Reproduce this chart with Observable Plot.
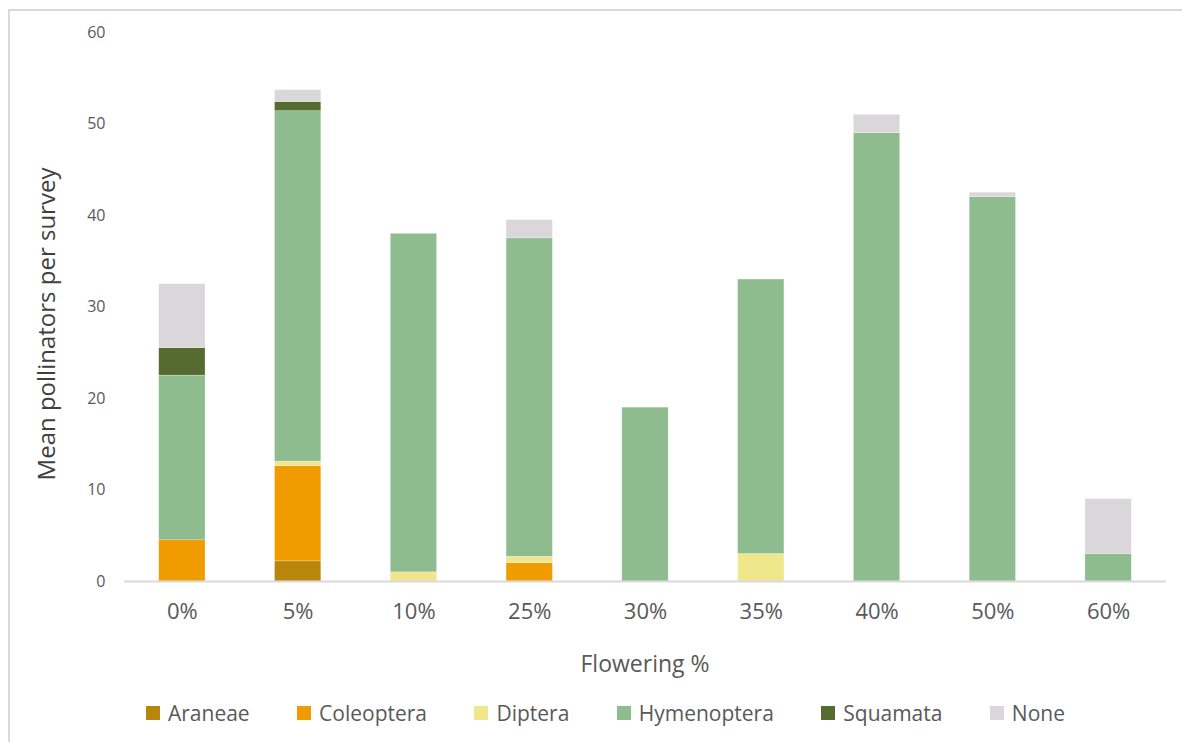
<!DOCTYPE html>
<html>
<head>
<meta charset="utf-8">
<script src="https://cdn.jsdelivr.net/npm/d3@7"></script>
<script src="https://cdn.jsdelivr.net/npm/@observablehq/plot@0.6"></script>
<style>
  html, body { margin: 0; padding: 0; background: #fff; }
  body { width: 1182px; height: 742px; position: relative; overflow: hidden; font-family: "Open Sans", sans-serif; }
  #frame { position: absolute; left: 8px; top: 9px; width: 1200px; height: 800px; border-top: 2px solid #d9d9d9; border-left: 2px solid #d9d9d9; box-sizing: border-box; }
  #chart { position: absolute; left: 0; top: 0; }
  #ytitle { position: absolute; left: 45px; top: 324px; transform: translate(-50%, -50%) rotate(-90deg); font-size: 24px; color: #404040; white-space: nowrap; }
  #xtitle { position: absolute; left: 645px; top: 663px; transform: translate(-50%, -50%); font-size: 23px; color: #595959; white-space: nowrap; }
  #legend { position: absolute; left: 146px; width: 919px; top: 713px; transform: translateY(-50%); display: flex; justify-content: space-between; align-items: center; font-size: 21px; color: #595959; }
  .item { display: flex; align-items: center; white-space: nowrap; }
  .sw { width: 14px; height: 14px; margin-right: 8px; }
</style>
</head>
<body>
<div id="frame"></div>
<div id="chart"></div>
<div id="ytitle">Mean pollinators per survey</div>
<div id="xtitle">Flowering %</div>
<div id="legend"></div>
<script>
const categories = ["0%", "5%", "10%", "25%", "30%", "35%", "40%", "50%", "60%"];
const seriesNames = ["Araneae", "Coleoptera", "Diptera", "Hymenoptera", "Squamata", "None"];
const seriesColors = ["#b8860b", "#f09b00", "#f0e68c", "#8fbc8f", "#556b2f", "#d9d7d9"];
const araneae     = [0,   2.2,  0,  0,    0,  0,  0,  0,   0];
const coleoptera  = [4.5, 10.4, 0,  2,    0,  0,  0,  0,   0];
const diptera     = [0,   0.5,  1,  0.7,  0,  3,  0,  0,   0];
const hymenoptera = [18,  38.3, 37, 34.8, 19, 30, 49, 42,  3];
const squamata    = [3,   1,    0,  0,    0,  0,  0,  0,   0];
const none        = [7,   1.3,  0,  2,    0,  0,  2,  0.5, 6];
const yTicks = [0, 10, 20, 30, 40, 50, 60];

const seriesValues = [araneae, coleoptera, diptera, hymenoptera, squamata, none];
const data = [];
seriesNames.forEach((s, si) => {
  categories.forEach((c, ci) => {
    data.push({category: c, series: s, value: seriesValues[si][ci]});
  });
});

const plot = Plot.plot({
  width: 1182,
  height: 640,
  marginTop: 32,
  marginBottom: 59,
  marginLeft: 124,
  marginRight: 16,
  style: {fontFamily: "Open Sans, sans-serif", background: "transparent"},
  x: {domain: categories, paddingInner: 0.6, paddingOuter: 0.3, round: false, label: null},
  y: {domain: [0, 60], label: null},
  color: {domain: seriesNames, range: seriesColors},
  marks: [
    Plot.axisY({ticks: yTicks, tickSize: 0, tickPadding: 19, fontSize: 16, fill: "#595959", label: null}),
    Plot.axisX({tickSize: 0, tickPadding: 22, fontSize: 22, fill: "#595959", label: null}),
    Plot.barY(data, Plot.stackY({order: seriesNames}, {x: "category", y: "value", z: "series", fill: "series", stroke: "white", strokeOpacity: 0.5, strokeWidth: 0.5})),
    Plot.ruleY([0], {stroke: "#d9d9d9", strokeWidth: 2})
  ]
});
document.getElementById("chart").appendChild(plot);

const legend = document.getElementById("legend");
seriesNames.forEach((s, i) => {
  const item = document.createElement("div");
  item.className = "item";
  const sw = document.createElement("div");
  sw.className = "sw";
  sw.style.background = seriesColors[i];
  const t = document.createElement("span");
  t.textContent = s;
  item.appendChild(sw);
  item.appendChild(t);
  legend.appendChild(item);
});
</script>
</body>
</html>
